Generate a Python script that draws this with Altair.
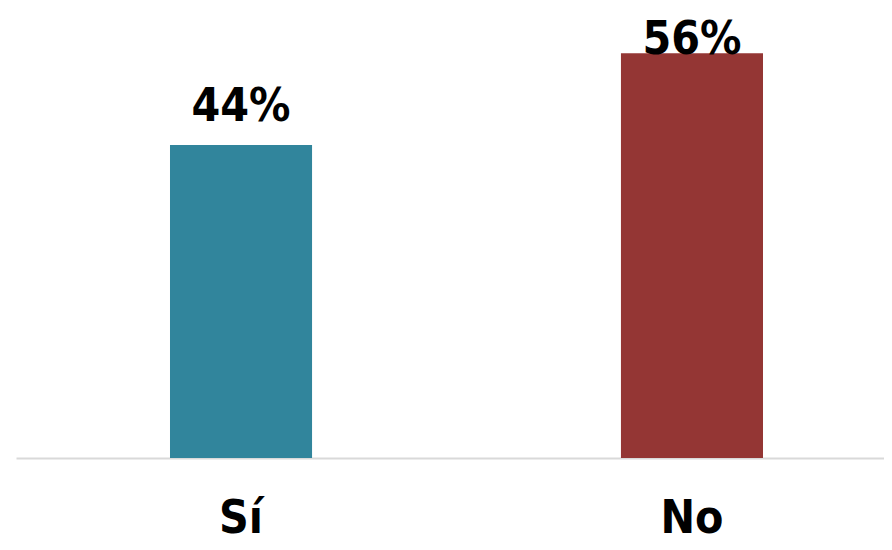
import altair as alt
import pandas as pd

categories = ["Sí", "No"]
values = [43.6, 56.4]
labels = ["44%", "56%"]
colors = ["#31859C", "#943634"]

df = pd.DataFrame({"cat": categories, "v": values, "lab": labels})

FONT = "'DejaVu Sans Condensed', 'Liberation Sans Narrow', 'Roboto', sans-serif"

xscale = alt.Scale(domain=categories, paddingInner=0.685, paddingOuter=0.3049, align=0.56)
yscale = alt.Scale(domain=[0, 62.7], nice=False)

base = alt.Chart(df)

bars = base.mark_bar().encode(
    x=alt.X("cat:N", scale=xscale, sort=categories,
            axis=alt.Axis(title=None, ticks=False, tickSize=0, domainColor="#d9d9d9", domainWidth=2,
                          labelFont=FONT, labelFontSize=46, labelFontWeight="bold",
                          labelColor="#000000", labelPadding=74, labelAngle=0,
                          labelBaseline="alphabetic")),
    y=alt.Y("v:Q", scale=yscale, axis=None),
    color=alt.Color("cat:N", scale=alt.Scale(domain=categories, range=colors), legend=None),
)

text = base.transform_calculate(
    ly="min(datum.v + 3.35, 56.3)"
).mark_text(font=FONT, fontSize=46, fontWeight="bold", color="#000000", baseline="alphabetic").encode(
    x=alt.X("cat:N", scale=xscale, sort=categories),
    y=alt.Y("ly:Q", scale=yscale),
    text="lab:N",
)

chart = (bars + text).properties(
    width=868, height=450,
    autosize=alt.AutoSizeParams(type="none"),
    padding={"left": 8, "top": 0, "right": 0, "bottom": 84},
).configure_view(stroke=None)

chart.save("out.html", embed_options={"renderer": "svg", "actions": False})
